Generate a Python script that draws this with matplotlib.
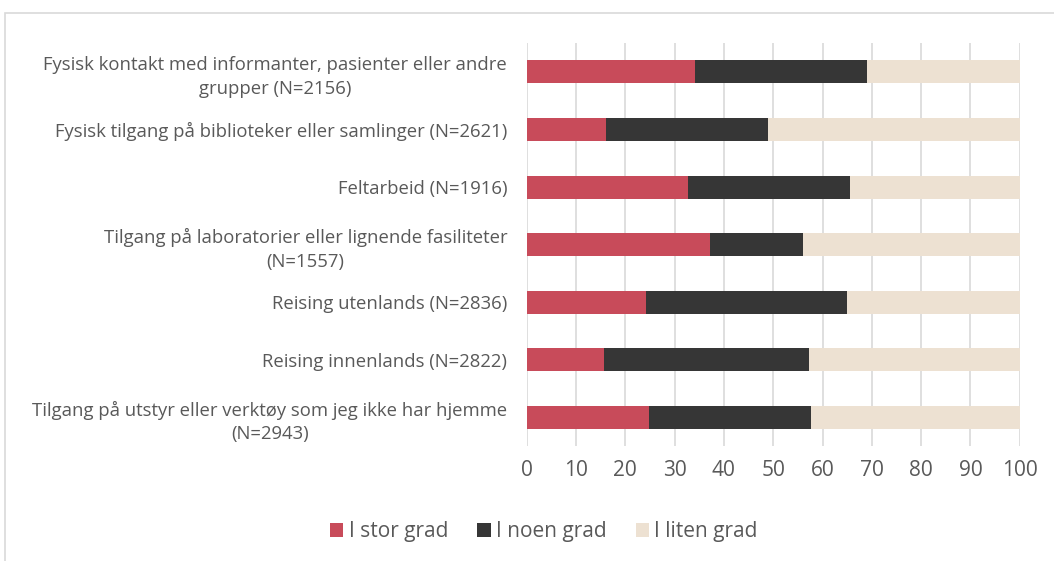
import matplotlib.pyplot as plt
from matplotlib.patches import Rectangle
import numpy as np

plt.rcParams['font.family'] = ['Open Sans', 'DejaVu Sans']

# Data (percent), top to bottom
categories = [
    "Fysisk kontakt med informanter, pasienter eller andre\ngrupper (N=2156)",
    "Fysisk tilgang på biblioteker eller samlinger (N=2621)",
    "Feltarbeid (N=1916)",
    "Tilgang på laboratorier eller lignende fasiliteter\n(N=1557)",
    "Reising utenlands (N=2836)",
    "Reising innenlands (N=2822)",
    "Tilgang på utstyr eller verktøy som jeg ikke har hjemme\n(N=2943)",
]
stor_grad = [34.1, 16.1, 32.7, 37.2, 24.1, 15.7, 24.9]
noen_grad = [34.9, 32.8, 32.8, 18.9, 40.8, 41.6, 32.8]
liten_grad = [100 - a - b for a, b in zip(stor_grad, noen_grad)]

series = [
    ("I stor grad", stor_grad, "#C84B5A"),
    ("I noen grad", noen_grad, "#363636"),
    ("I liten grad", liten_grad, "#EDE1D2"),
]

fig = plt.figure(figsize=(10.54, 5.61), dpi=100)
ax = fig.add_axes([0.4997, 0.205, 0.4678, 0.718])

y = np.arange(len(categories))
left = np.zeros(len(categories))
for name, vals, col in series:
    ax.barh(y, vals, left=left, height=0.4, color=col, label=name, zorder=3)
    left += np.array(vals)

ax.set_xlim(0, 100)
ax.set_ylim(len(categories) - 0.5, -0.5)
ax.set_xticks(range(0, 101, 10))
ax.set_yticks(y)
ax.set_yticklabels(categories, fontsize=13.3, color="#595959", ha="right",
                   multialignment="center", linespacing=1.4)
ax.tick_params(axis="x", labelsize=15, colors="#595959", length=0, pad=10)
ax.tick_params(axis="y", length=0, pad=14)
ax.grid(axis="x", color="#D9D9D9", linewidth=1.2, zorder=0)
for s in ax.spines.values():
    s.set_visible(False)

ax.legend(loc="lower center", bbox_to_anchor=(0.516, 0.0), bbox_transform=fig.transFigure,
          ncol=3, frameon=False, fontsize=15, labelcolor="#595959",
          handlelength=0.65, handleheight=0.65, handletextpad=0.25, columnspacing=1.4)

fig.patches.append(Rectangle((5 / 1054, -0.1), 1.1, (561 - 13) / 561 + 0.1,
                             transform=fig.transFigure, fill=False,
                             edgecolor="#D9D9D9", linewidth=1.2))

fig.savefig("out.png", dpi=100)
